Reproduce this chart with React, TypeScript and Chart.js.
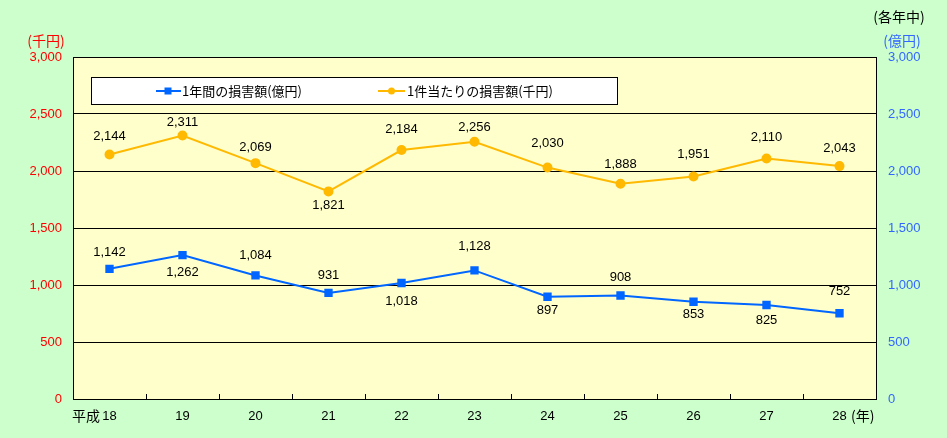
import React, { useEffect, useRef } from "react";
import { Chart, registerables } from "chart.js";
Chart.register(...registerables);

const years = ["18", "19", "20", "21", "22", "23", "24", "25", "26", "27", "28"];
const annualDamage = [1142, 1262, 1084, 931, 1018, 1128, 897, 908, 853, 825, 752];
const perCaseDamage = [2144, 2311, 2069, 1821, 2184, 2256, 2030, 1888, 1951, 2110, 2043];
const seriesNames = ["1年間の損害額(億円)", "1件当たりの損害額(千円)"];

// layout: vertical offset (px) of each value label from its point
const annualLabelShift = [-16, 17, -20, -17, 18, -24, 14, -18, 13, 15, -22];
const perCaseLabelShift = [-18, -13, -16, 14, -21, -14, -24, -19, -22, -21, -18];

const BLUE = "#0066ff";
const ORANGE = "#ffb900";
const NUM_FONT = "13px 'Liberation Sans', Arial, sans-serif";
const JP_FONT = "14px 'Noto Sans CJK JP', sans-serif";

const fmt = (v: number) => v.toLocaleString("en-US");

const decoPlugin = {
  id: "deco",
  beforeDraw(chart: any) {
    const { ctx, chartArea: a } = chart;
    ctx.save();
    ctx.fillStyle = "#ccffcc";
    ctx.fillRect(0, 0, chart.width, chart.height);
    ctx.fillStyle = "#ffffcc";
    ctx.fillRect(a.left, a.top, a.right - a.left, a.bottom - a.top);
    ctx.restore();
  },
  afterDatasetsDraw(chart: any) {
    const { ctx, chartArea: a, scales } = chart;
    const x = scales.x;
    ctx.save();
    // tick marks inside at category boundaries
    ctx.strokeStyle = "#000";
    ctx.lineWidth = 1;
    for (let i = 1; i < years.length; i++) {
      const px = Math.round((x.getPixelForValue(i - 1) + x.getPixelForValue(i)) / 2) + 0.5;
      ctx.beginPath();
      ctx.moveTo(px, a.bottom);
      ctx.lineTo(px, a.bottom - 5);
      ctx.stroke();
    }
    // data labels
    ctx.font = NUM_FONT;
    ctx.fillStyle = "#000";
    ctx.textAlign = "center";
    ctx.textBaseline = "middle";
    const m0 = chart.getDatasetMeta(0);
    const m1 = chart.getDatasetMeta(1);
    m0.data.forEach((p: any, i: number) => {
      ctx.fillText(fmt(annualDamage[i]), p.x, p.y + annualLabelShift[i]);
    });
    m1.data.forEach((p: any, i: number) => {
      ctx.fillText(fmt(perCaseDamage[i]), p.x, p.y + perCaseLabelShift[i]);
    });
    // legend box
    const lx = 91, ly = 77, lw = 526, lh = 27;
    ctx.fillStyle = "#fff";
    ctx.fillRect(lx, ly, lw, lh);
    ctx.strokeStyle = "#000";
    ctx.lineWidth = 1;
    ctx.strokeRect(lx + 0.5, ly + 0.5, lw, lh);
    const cy = ly + lh / 2 + 0.5;
    ctx.strokeStyle = BLUE;
    ctx.lineWidth = 2;
    ctx.beginPath();
    ctx.moveTo(156, cy);
    ctx.lineTo(181, cy);
    ctx.stroke();
    ctx.fillStyle = BLUE;
    ctx.fillRect(164.5, cy - 3.5, 7, 7);
    ctx.strokeStyle = ORANGE;
    ctx.beginPath();
    ctx.moveTo(378, cy);
    ctx.lineTo(405, cy);
    ctx.stroke();
    ctx.fillStyle = ORANGE;
    ctx.beginPath();
    ctx.arc(391.5, cy, 3.5, 0, Math.PI * 2);
    ctx.fill();
    ctx.fillStyle = "#000";
    ctx.font = "13px 'Noto Sans CJK JP', sans-serif";
    ctx.textAlign = "left";
    ctx.fillText(seriesNames[0], 182, cy);
    ctx.fillText(seriesNames[1], 407, cy);
    // axis titles
    ctx.font = JP_FONT;
    ctx.textAlign = "center";
    ctx.fillStyle = "#ff0000";
    ctx.fillText("(千円)", 46, 41);
    ctx.fillStyle = "#3366ff";
    ctx.fillText("(億円)", 902, 41);
    ctx.fillStyle = "#000";
    ctx.fillText("(各年中)", 899, 17);
    // x-axis extras
    ctx.textAlign = "right";
    ctx.fillText("平成", 100, 416);
    ctx.textAlign = "left";
    ctx.fillText("(年)", 851, 416);
    ctx.restore();
  },
};

export default function App() {
  const ref = useRef<HTMLCanvasElement>(null);
  useEffect(() => {
    const chart = new Chart(ref.current!, {
      type: "line",
      data: {
        labels: years,
        datasets: [
          {
            label: seriesNames[0],
            data: annualDamage,
            yAxisID: "y1",
            borderColor: BLUE,
            backgroundColor: BLUE,
            borderWidth: 2,
            pointStyle: "rect",
            pointRadius: 4.5,
            tension: 0,
          },
          {
            label: seriesNames[1],
            data: perCaseDamage,
            yAxisID: "y",
            borderColor: ORANGE,
            backgroundColor: ORANGE,
            borderWidth: 2,
            pointStyle: "circle",
            pointRadius: 4,
            tension: 0,
          },
        ],
      },
      options: {
        animation: false,
        responsive: false,
        layout: { padding: { top: 57, left: 0, right: 0, bottom: 0 } },
        plugins: { legend: { display: false }, tooltip: { enabled: false } },
        scales: {
          x: {
            offset: true,
            grid: { display: false, drawTicks: false },
            border: { color: "#000", width: 1 },
            ticks: { color: "#000", font: { family: "'Liberation Sans', Arial, sans-serif", size: 13 }, padding: 10, maxRotation: 0 },
            afterFit: (s: any) => { s.height = 39; },
          },
          y: {
            position: "left",
            min: 0,
            max: 3000,
            grid: { color: "#000", drawTicks: false },
            border: { color: "#000", width: 1 },
            ticks: {
              stepSize: 500,
              color: "#ff0000",
              padding: 11,
              font: { family: "'Liberation Sans', Arial, sans-serif", size: 13 },
              callback: (v: any) => fmt(Number(v)),
            },
            afterFit: (s: any) => { s.width = 73; },
          },
          y1: {
            position: "right",
            min: 0,
            max: 3000,
            grid: { display: false, drawTicks: false },
            border: { color: "#000", width: 1 },
            ticks: {
              stepSize: 500,
              color: "#3366ff",
              padding: 12,
              font: { family: "'Liberation Sans', Arial, sans-serif", size: 13 },
              callback: (v: any) => fmt(Number(v)),
            },
            afterFit: (s: any) => { s.width = 71; },
          },
        },
      },
      plugins: [decoPlugin],
    } as any);
    return () => chart.destroy();
  }, []);
  return (
    <div style={{ position: "fixed", left: 0, top: 0, width: 947, height: 438, background: "#ccffcc" }}>
      <canvas ref={ref} width={947} height={438} style={{ width: 947, height: 438 }} />
    </div>
  );
}
